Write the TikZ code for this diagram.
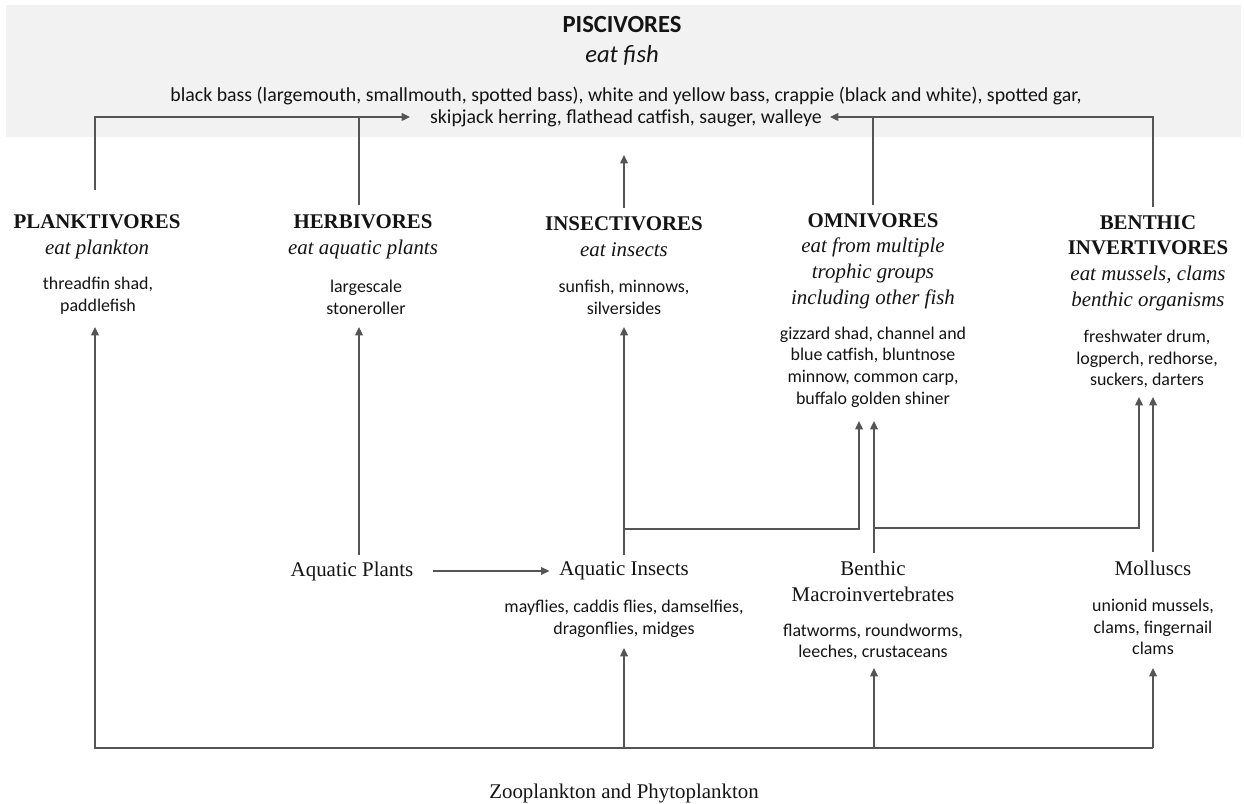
\documentclass[tikz,border=0pt]{standalone}
\usepackage{fontspec}
\setmainfont{Liberation Serif}
\newfontfamily\carl{Carlito}
\usetikzlibrary{arrows.meta}
\definecolor{band}{HTML}{F2F2F2}
\definecolor{lncol}{HTML}{555555}
\definecolor{txt}{HTML}{141414}
\tikzset{
  ln/.style={draw=lncol, line width=0.85pt},
  arr/.style={ln, -{Triangle[length=4.8pt,width=4.4pt]}},
  grp/.style={font=\fontsize{11.9}{14.6}\selectfont, align=center, inner sep=0pt, text=txt},
  src/.style={font=\fontsize{11.9}{14.8}\selectfont, align=center, inner sep=0pt, text=txt},
  lst/.style={font=\carl\fontsize{10.2}{12.4}\selectfont, align=center, inner sep=0pt, text=txt},
}
\begin{document}
\begin{tikzpicture}[x=0.02cm,y=-0.02cm]
\useasboundingbox (0,0) rectangle (1244,804);
\fill[band] (6,5) rectangle (1241,137);

% Piscivores
\node[inner sep=0pt, text=txt, align=center, font=\carl\fontsize{14}{17}\selectfont] (piscT) at (622,41) {\textbf{PISCIVORES}\\\textit{eat fish}};
\node[lst, font=\carl\fontsize{11.3}{12.4}\selectfont] (piscL) at (626,107) {black bass (largemouth, smallmouth, spotted bass), white and yellow bass, crappie (black and white), spotted gar,\\skipjack herring, flathead catfish, sauger, walleye};

% consumer groups
\node[grp] (plankT) at (97,237) {\textbf{PLANKTIVORES}\\\textit{eat plankton}};
\node[lst] (plankL) at (98,296) {threadfin shad,\\paddlefish};
\node[grp] (herbT) at (363,237) {\textbf{HERBIVORES}\\\textit{eat aquatic plants}};
\node[lst] (herbL) at (366,297) {largescale\\stoneroller};
\node[grp] (insT) at (624,237) {\textbf{INSECTIVORES}\\\textit{eat insects}};
\node[lst] (insL) at (624,297) {sunfish, minnows,\\silversides};
\node[grp] (omT) at (873,261) {\textbf{OMNIVORES}\\\textit{eat from multiple}\\\textit{trophic groups}\\\textit{including other fish}};
\node[lst] (omL) at (873,367) {gizzard shad, channel and\\blue catfish, bluntnose\\minnow, common carp,\\buffalo golden shiner};
\node[grp] (bnT) at (1148,263) {\textbf{BENTHIC}\\\textbf{INVERTIVORES}\\\textit{eat mussels, clams}\\\textit{benthic organisms}};
\node[lst] (bnL) at (1147,359) {freshwater drum,\\logperch, redhorse,\\suckers, darters};

% food sources
\node[src] (aqP) at (352,571) {Aquatic Plants};
\node[src] (aqI) at (624,571) {Aquatic Insects};
\node[lst] (aqIL) at (624,619) {mayflies, caddis flies, damselfies,\\dragonflies, midges};
\node[src] (bm) at (873,581) {Benthic\\Macroinvertebrates};
\node[lst] (bmL) at (873,642) {flatworms, roundworms,\\leeches, crustaceans};
\node[src] (mo) at (1153,568) {Molluscs};
\node[lst] (moL) at (1153,627) {unionid mussels,\\clams, fingernail\\clams};
\node[src] (zp) at (624,793) {Zooplankton and Phytoplankton};

% junction coordinates
\coordinate (plUp) at (95,190);
\coordinate (hbUp) at (359,205);
\coordinate (inUp) at (624,208);
\coordinate (omUp) at (873,205);
\coordinate (bnUp) at (1153,207);
\coordinate (leftTip) at (410,117);
\coordinate (rightTip) at (830,117);
\coordinate (piscTip) at (624,155);

\coordinate (plTip) at (95,327);
\coordinate (hbTip) at (359,327);
\coordinate (inTip) at (624,327);
\coordinate (omTipA) at (859,421);
\coordinate (omTipB) at (874,421);
\coordinate (bnTipA) at (1139,397);
\coordinate (bnTipB) at (1153,397);

\coordinate (apUp) at (359,555);
\coordinate (aiUp) at (624,555);
\coordinate (aiJ) at (624,529);
\coordinate (bmUp) at (874,553);
\coordinate (bmJ) at (874,528);
\coordinate (moUp) at (1153,552);

\coordinate (aiTip) at (624,648);
\coordinate (bmTip) at (874,668);
\coordinate (moTip) at (1153,668);
\coordinate (bL) at (95,748);
\coordinate (bR) at (1153,748);

% to piscivores
\draw[arr] (plUp) |- (leftTip);
\draw[ln] (hbUp) -- (hbUp |- leftTip);
\draw[arr] (bnUp) |- (rightTip);
\draw[ln] (omUp) -- (omUp |- rightTip);
\draw[arr] (inUp) -- (piscTip);

% middle
\draw[arr] (apUp) -- (hbTip);
\draw[arr, shorten <=10.8pt, shorten >=5.4pt] (aqP.east) -- (aqI.west);
\draw[arr] (aiUp) -- (inTip);
\draw[arr] (aiJ) -| (omTipA);
\draw[arr] (bmUp) -- (omTipB);
\draw[arr] (bmJ) -| (bnTipA);
\draw[arr] (moUp) -- (bnTipB);

% bottom
\draw[arr] (bR) -- (bL) -- (plTip);
\draw[arr] (aiTip |- bL) -- (aiTip);
\draw[arr] (bmTip |- bL) -- (bmTip);
\draw[arr] (moTip |- bL) -- (moTip);
\end{tikzpicture}
\end{document}
